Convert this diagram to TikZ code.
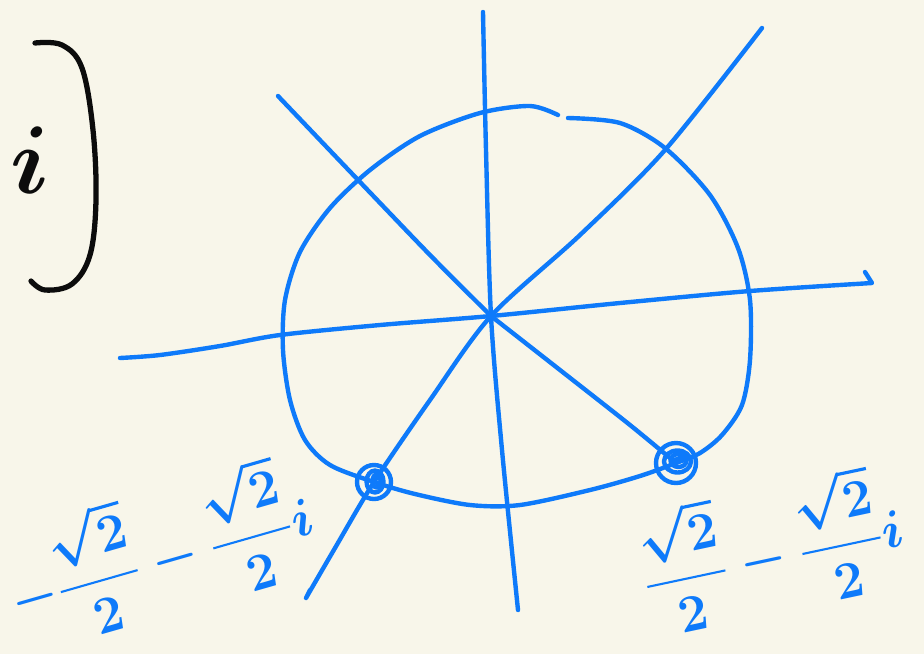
\documentclass[tikz,border=0pt]{standalone}
\usepackage{amsmath}
\usepackage{graphicx}
\usetikzlibrary{positioning}
\definecolor{paper}{RGB}{248,246,234}
\definecolor{penblue}{RGB}{14,122,250}
\definecolor{penblack}{RGB}{12,12,12}
\tikzset{
  pen/.style={draw=penblue, line width=2.5pt, line cap=round, line join=round},
  inkpen/.style={draw=penblack, line width=3pt, line cap=round, line join=round},
  rootmark/.style={circle, draw=penblue, line width=2.5pt, inner sep=0pt},
  rootlabel/.style={text=penblue, font=\Huge\boldmath, inner sep=0pt},
}

\begin{document}
\begin{tikzpicture}[x=0.02cm, y=-0.02cm]
  \useasboundingbox (0,0) rectangle (924,654);
  \clip (0,0) rectangle (924,654);
  \fill[paper] (0,0) rectangle (924,654);

  % bracket and i on the left
  \node[text=penblack, font=\Huge\boldmath, inner sep=0pt] (ivar) at (30,160) {\scalebox{2.2}{$i$}};
  \draw[inkpen] plot[smooth, tension=0.6] coordinates
    {(35,43) (62,45) (82,68) (93,130) (96,200) (90,255) (72,284) (45,290) (31,281)};

  % centre and the two marked roots
  \coordinate (o) at (491,316);
  \node[rootmark, minimum size=0.68cm] (pl) at (374,482) {};
  \node[rootmark, minimum size=0.8cm] (pr) at (676,463) {};
  \draw[pen] ([shift={(0.02cm,0.01cm)}]pl.center) ellipse [x radius=0.17cm, y radius=0.22cm];
  \draw[pen] ([shift={(0.05cm,0.02cm)}]pl.center) ellipse [x radius=0.08cm, y radius=0.13cm];
  \draw[pen] ([shift={(0.03cm,0.03cm)}]pr.center) ellipse [x radius=0.27cm, y radius=0.22cm];
  \draw[pen] ([shift={(0.05cm,0.05cm)}]pr.center) ellipse [x radius=0.16cm, y radius=0.13cm];
  \draw[pen] ([shift={(-0.05cm,0.05cm)}]pr.center) -- ([shift={(0.12cm,0.12cm)}]pr.center);

  % axes through the centre
  \coordinate (vtop) at (483,12);
  \coordinate (vbot) at (518,610);
  \coordinate (hleft) at (120,358);
  \coordinate (hright) at (872,283);
  \coordinate (hhook) at (865,272);
  \coordinate (nw) at (278,96);
  \coordinate (ne) at (762,28);
  \coordinate (sw) at (306,598);
  \draw[pen] plot[smooth] coordinates {(vtop) (486,150) (o) (502,450) (vbot)};
  \draw[pen] plot[smooth] coordinates {(hleft) (160,355) (220,346) (280,335) (380,325) (o) (620,303) (750,291) (hright)} -- (hhook);
  \draw[pen] plot[smooth] coordinates {(nw) (360,182) (430,255) (o)};
  \draw[pen] plot[smooth] coordinates {(o) (560,370) (630,425) (pr)};
  \draw[pen] plot[smooth] coordinates {(ne) (665,150) (580,235) (o) (430,400) (pl) (335,548) (sw)} -- (310,590);

  % the unit circle, drawn by hand
  \draw[pen] plot[smooth] coordinates
    {(568,118) (620,123) (665,148) (710,195) (738,248) (750,300) (750,360)
     (742,405) (722,435) (700,453) (676,463) (640,476) (590,490) (520,505)
     (470,505) (415,494) (374,482) (330,465) (305,440) (290,400) (283,350)
     (285,300) (300,252) (330,208) (370,170) (420,136) (480,113) (530,106) (558,115)};

  % labels of the two roots
  \node[rootlabel, rotate=16] (lblleft) at (160,552)
    {\scalebox{1.2}{$-\dfrac{\sqrt{2}}{2}-\dfrac{\sqrt{2}}{2}i$}};
  \node[rootlabel, rotate=12] (lblright) at (772,549)
    {\scalebox{1.2}{$\dfrac{\sqrt{2}}{2}-\dfrac{\sqrt{2}}{2}i$}};
\end{tikzpicture}
\end{document}
